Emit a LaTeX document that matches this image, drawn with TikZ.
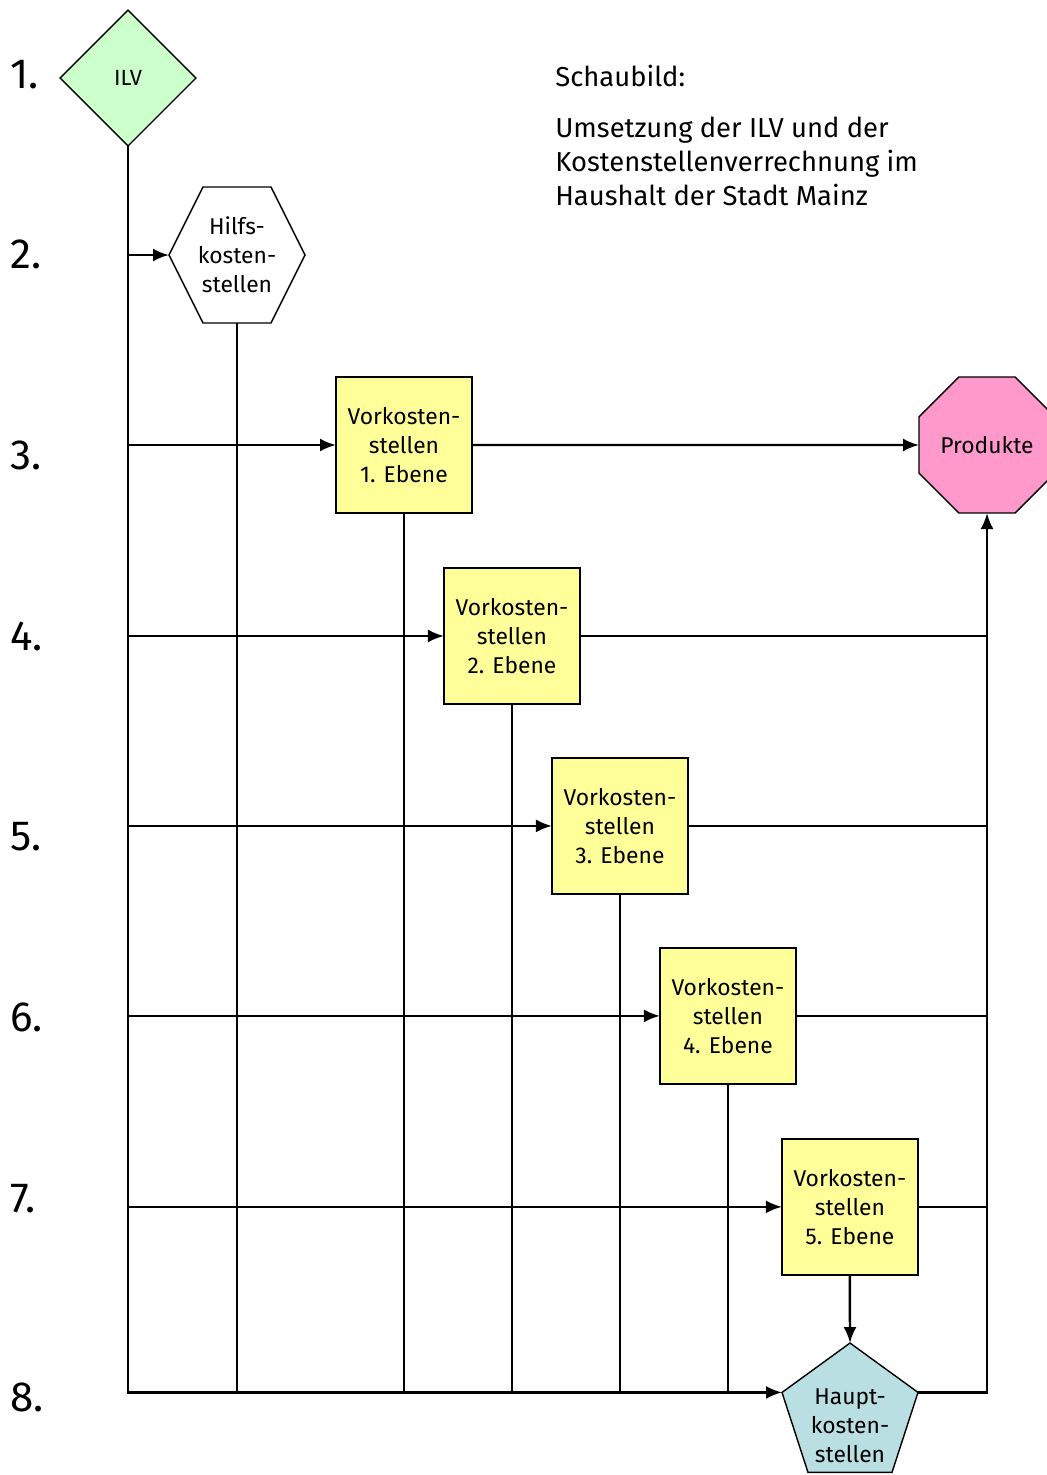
\documentclass[tikz,border=0pt]{standalone}
\usepackage{fontspec}
\setmainfont{Fira Sans}
\usepackage{tikz}
\usetikzlibrary{arrows.meta,shapes.geometric,calc}
\usetikzlibrary{positioning}
\definecolor{ilvgreen}{HTML}{CCFFCC}
\definecolor{vkyellow}{HTML}{FFFF99}
\definecolor{prodpink}{HTML}{FF99CC}
\definecolor{hkblue}{HTML}{B9DFE3}
\tikzset{
    vkbox/.style={
           rectangle,
           draw=black, line width=0.8pt,
           fill=vkyellow,
           minimum width=2.72cm,
           minimum height=2.72cm,
           inner sep=0pt, outer sep=0pt,
           align=center,
           font=\fontsize{13}{16.5}\selectfont,
           },
    ilv/.style={
           diamond,
           draw=black, line width=0.8pt,
           fill=ilvgreen,
           minimum width=2.72cm,
           minimum height=2.72cm,
           inner sep=0pt, outer sep=0pt,
           font=\fontsize{12.5}{15}\selectfont,
           },
    produkt/.style={
           regular polygon, regular polygon sides=8,
           draw=black, line width=0.8pt,
           fill=prodpink,
           minimum size=2.944cm,
           inner sep=0pt, outer sep=0pt,
           font=\fontsize{13}{16.5}\selectfont,
           },
    hauptks/.style={
           regular polygon, regular polygon sides=5,
           draw=black, line width=0.8pt,
           fill=hkblue,
           minimum size=2.86cm,
           inner sep=0pt, outer sep=0pt,
           },
    hilfsks/.style={
           rectangle,
           minimum width=2.72cm,
           minimum height=2.72cm,
           inner sep=0pt, outer sep=0pt,
           align=center,
           font=\fontsize{13}{16.5}\selectfont,
           },
    kstext/.style={inner sep=0pt, align=center,
           font=\fontsize{13}{16.5}\selectfont},
    flow/.style={line width=1.4pt},
    ebene/.style={anchor=base west, inner sep=0pt,
           font=\fontsize{24}{28}\selectfont},
}

\begin{document}
\begin{tikzpicture}[x=0.02cm,y=-0.02cm,>={Latex[length=3.2mm,width=2.6mm]}]
 \useasboundingbox (0,0) rectangle (1046,1475);

 % Ebenen
 \foreach \n/\y in {1/88,2/268,3/469,4/650,5/850,6/1031,7/1212,8/1411}
   \node[ebene] (lvl\n) at (10,\y) {\n.};

 % Ueberschrift
 \node[anchor=base west, inner sep=0pt,
   font=\fontsize{15.6}{19.2}\selectfont] (titel) at (555,86) {Schaubild:};
 \node[anchor=north west, inner sep=0pt, align=left,
   font=\fontsize{15.6}{19.2}\selectfont] (untertitel) at (555,117)
   {Umsetzung der ILV und der\\
    Kostenstellenverrechnung im\\
    Haushalt der Stadt Mainz};

 \node[ilv] (ILV) at (128,78) {ILV};

 \node[hilfsks] (HiKS) at (237,255) {Hilfs-\\kosten-\\stellen};
 \draw[line width=0.8pt] (HiKS.west)
   -- ($(HiKS.north west)+(34,0)$) -- ($(HiKS.north east)+(-34,0)$)
   -- (HiKS.east)
   -- ($(HiKS.south east)+(-34,0)$) -- ($(HiKS.south west)+(34,0)$)
   -- cycle;

 \node[vkbox] (VK1) at (404,445) {Vorkosten-\\stellen\\1. Ebene};
 \node[vkbox, below right=1.1cm and -0.56cm of VK1] (VK2)
   {Vorkosten-\\stellen\\2. Ebene};
 \node[vkbox, below right=1.08cm and -0.56cm of VK2] (VK3)
   {Vorkosten-\\stellen\\3. Ebene};
 \node[vkbox, below right=1.08cm and -0.56cm of VK3] (VK4)
   {Vorkosten-\\stellen\\4. Ebene};
 \node[vkbox, below right=1.1cm and -0.28cm of VK4] (VK5)
   {Vorkosten-\\stellen\\5. Ebene};

 \node[produkt] (Prod) at (987,445) {Produkte};
 \node[hauptks] (HKS) at (850,1414.5) {};
 \node[kstext] (HKStext) at ($(HKS.center)+(0,11)$) {Haupt-\\kosten-\\stellen};

 % Verrechnungswege
 \draw[flow,->] (ILV.south) |- (HKS.corner 2);
 \draw[flow,->] (ILV.south |- HiKS.west) -- (HiKS.west);
 \draw[flow,->] (ILV.south |- VK1.west) -- (VK1.west);
 \draw[flow,->] (ILV.south |- VK2.west) -- (VK2.west);
 \draw[flow,->] (ILV.south |- VK3.west) -- (VK3.west);
 \draw[flow,->] (ILV.south |- VK4.west) -- (VK4.west);
 \draw[flow,->] (ILV.south |- VK5.west) -- (VK5.west);

 \draw[flow] (HiKS.south) -- (HiKS.south |- HKS.corner 2);
 \draw[flow] (VK1.south) -- (VK1.south |- HKS.corner 2);
 \draw[flow] (VK2.south) -- (VK2.south |- HKS.corner 2);
 \draw[flow] (VK3.south) -- (VK3.south |- HKS.corner 2);
 \draw[flow] (VK4.south) -- (VK4.south |- HKS.corner 2);
 \draw[flow,->] (VK5.south) -- (HKS.corner 1);

 \draw[flow,->] (VK1.east) -- (Prod.west);
 \draw[flow] (VK2.east) -- (VK2.east -| Prod.south);
 \draw[flow] (VK3.east) -- (VK3.east -| Prod.south);
 \draw[flow] (VK4.east) -- (VK4.east -| Prod.south);
 \draw[flow] (VK5.east) -- (VK5.east -| Prod.south);
 \draw[flow,->] (HKS.corner 5) -| (Prod.south);
\end{tikzpicture}
\end{document}
